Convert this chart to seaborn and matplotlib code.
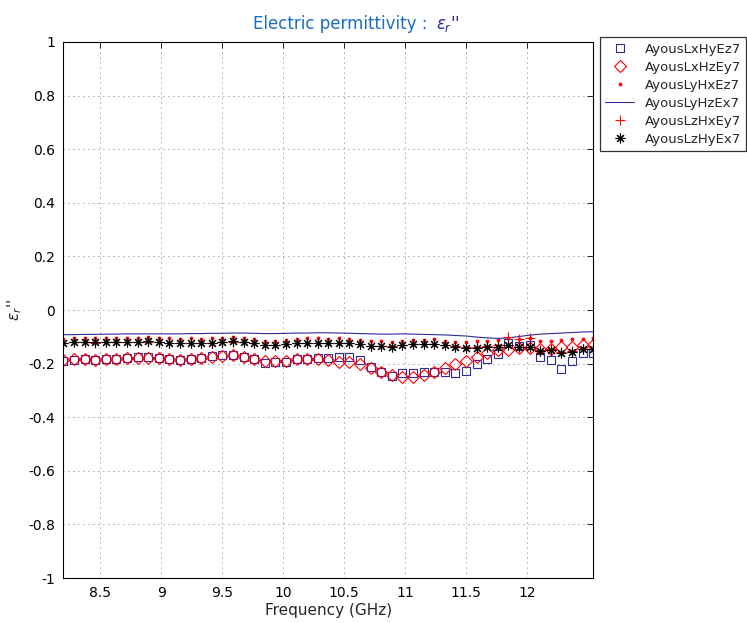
import matplotlib
matplotlib.use('Agg')
import matplotlib.pyplot as plt
import seaborn as sns
import numpy as np

# frequency grid (GHz), 51 samples across the X band
freq = np.linspace(8.2, 12.54, 51)

lx_hy_ez = [-0.189, -0.187, -0.184, -0.187, -0.184, -0.181, -0.178, -0.174, -0.174, -0.178,
            -0.181, -0.187, -0.184, -0.180, -0.172, -0.168, -0.168, -0.177, -0.184, -0.197,
            -0.193, -0.193, -0.184, -0.184, -0.180, -0.180, -0.174, -0.174, -0.187, -0.214,
            -0.230, -0.246, -0.236, -0.236, -0.230, -0.230, -0.233, -0.236, -0.226, -0.203,
            -0.184, -0.164, -0.124, -0.134, -0.131, -0.177, -0.187, -0.220, -0.189, -0.162,
            -0.162]
lx_hz_ey = [-0.186, -0.184, -0.184, -0.186, -0.184, -0.182, -0.180, -0.178, -0.178, -0.180,
            -0.182, -0.186, -0.184, -0.180, -0.177, -0.170, -0.167, -0.177, -0.184, -0.190,
            -0.190, -0.190, -0.184, -0.184, -0.181, -0.188, -0.193, -0.193, -0.203, -0.218,
            -0.230, -0.243, -0.249, -0.251, -0.243, -0.233, -0.218, -0.201, -0.190, -0.177,
            -0.159, -0.149, -0.149, -0.143, -0.143, -0.146, -0.146, -0.137, -0.137, -0.131,
            -0.131]
ly_hx_ez = [-0.108, -0.105, -0.106, -0.106, -0.105, -0.104, -0.105, -0.103, -0.101, -0.104,
            -0.106, -0.108, -0.106, -0.108, -0.106, -0.104, -0.101, -0.104, -0.108, -0.114,
            -0.114, -0.112, -0.108, -0.106, -0.106, -0.108, -0.106, -0.108, -0.111, -0.117,
            -0.117, -0.120, -0.114, -0.111, -0.111, -0.110, -0.114, -0.119, -0.121, -0.116,
            -0.114, -0.112, -0.106, -0.110, -0.106, -0.114, -0.114, -0.112, -0.110, -0.110,
            -0.106]
ly_hz_ex = [-0.092, -0.092, -0.091, -0.091, -0.090, -0.090, -0.089, -0.089, -0.089, -0.089,
            -0.089, -0.089, -0.088, -0.088, -0.087, -0.087, -0.086, -0.086, -0.087, -0.088,
            -0.088, -0.087, -0.086, -0.086, -0.085, -0.085, -0.086, -0.087, -0.088, -0.089,
            -0.090, -0.090, -0.089, -0.090, -0.091, -0.092, -0.093, -0.095, -0.097, -0.101,
            -0.104, -0.106, -0.104, -0.099, -0.094, -0.090, -0.088, -0.086, -0.084, -0.082,
            -0.081]
lz_hx_ey = [-0.123, -0.121, -0.121, -0.122, -0.121, -0.120, -0.121, -0.119, -0.118, -0.120,
            -0.122, -0.123, -0.122, -0.124, -0.122, -0.120, -0.118, -0.120, -0.124, -0.130,
            -0.130, -0.128, -0.124, -0.122, -0.122, -0.124, -0.122, -0.124, -0.127, -0.133,
            -0.133, -0.136, -0.131, -0.128, -0.128, -0.127, -0.130, -0.136, -0.139, -0.138,
            -0.134, -0.130, -0.100, -0.109, -0.106, -0.150, -0.147, -0.158, -0.153, -0.145,
            -0.145]
lz_hy_ex = [-0.124, -0.120, -0.121, -0.121, -0.121, -0.120, -0.121, -0.119, -0.117, -0.120,
            -0.122, -0.124, -0.122, -0.124, -0.122, -0.120, -0.117, -0.120, -0.124, -0.131,
            -0.131, -0.128, -0.124, -0.122, -0.122, -0.124, -0.122, -0.124, -0.128, -0.134,
            -0.134, -0.137, -0.131, -0.128, -0.128, -0.127, -0.131, -0.137, -0.141, -0.141,
            -0.137, -0.137, -0.131, -0.139, -0.139, -0.152, -0.149, -0.162, -0.156, -0.147,
            -0.147]

names = ['AyousLxHyEz7', 'AyousLxHzEy7', 'AyousLyHxEz7',
         'AyousLyHzEx7', 'AyousLzHxEy7', 'AyousLzHyEx7']

navy = '#2b2b9c'
sns.set_style('white')
plt.rcParams['font.family'] = ['DejaVu Sans']
plt.rcParams['axes.unicode_minus'] = False

fig = plt.figure(figsize=(7.47, 6.23), dpi=100)
ax = fig.add_axes([0.085, 0.0722, 0.709, 0.8604])

sns.lineplot(x=freq, y=lx_hy_ez, ax=ax, linestyle='', marker='s', markersize=6,
             markerfacecolor='none', markeredgecolor=navy, markeredgewidth=0.8,
             color=navy, label=names[0])
sns.lineplot(x=freq, y=lx_hz_ey, ax=ax, linestyle='', marker='D', markersize=6,
             markerfacecolor='none', markeredgecolor='red', markeredgewidth=0.8,
             color='red', label=names[1])
sns.lineplot(x=freq, y=ly_hx_ez, ax=ax, linestyle='', marker='.', markersize=4,
             markeredgecolor='red', markerfacecolor='red', color='red', label=names[2])
sns.lineplot(x=freq, y=ly_hz_ex, ax=ax, color=navy, linewidth=0.8, label=names[3])
sns.lineplot(x=freq, y=lz_hx_ey, ax=ax, linestyle='', marker='+', markersize=7.5,
             markeredgewidth=0.8, markeredgecolor='red', color='red', label=names[4])
sns.lineplot(x=freq, y=lz_hy_ex, ax=ax, linestyle='', marker=(8, 2, 0), markersize=7,
             markeredgewidth=0.8, markeredgecolor='black', color='black', label=names[5])

ax.set_xlim(8.2, 12.54)
ax.set_ylim(-1, 1)
ax.set_xticks([8.5, 9, 9.5, 10, 10.5, 11, 11.5, 12])
ax.set_xticklabels(['8.5', '9', '9.5', '10', '10.5', '11', '11.5', '12'])
yt = np.round(np.arange(-1, 1.01, 0.2), 1)
ax.set_yticks(yt)
ax.set_yticklabels([('%g' % v) if abs(v) > 1e-9 else '0' for v in yt])
ax.tick_params(direction='in', length=4, width=0.6, top=True, right=True,
               labelsize=10, colors='black', pad=6)
ax.grid(True, color='#444444', linestyle=(0, (1, 5)), linewidth=0.6)
for s in ax.spines.values():
    s.set_visible(True)
    s.set_color('black')
    s.set_linewidth(0.8)

ax.set_xlabel('Frequency (GHz)', fontsize=11, labelpad=2)
ax.set_ylabel("$\\epsilon_r$''", fontsize=11, rotation=90)
ax.yaxis.set_label_coords(-0.075, 0.5)

fig.text(253 / 747, 0.962, 'Electric permittivity : ', color='#1a6cc0', fontsize=12,
         ha='left', va='center')
fig.text(436 / 747, 0.962, "$\\epsilon_r$''", color=navy, fontsize=12, ha='left', va='center')

leg = ax.legend(loc='upper left', bbox_to_anchor=(0.803, 0.94), bbox_transform=fig.transFigure,
                frameon=True, fancybox=False, fontsize=9.5, borderaxespad=0,
                handlelength=2.2, labelspacing=0.38, borderpad=0.4)
leg.get_frame().set_edgecolor('black')
leg.get_frame().set_linewidth(0.9)

fig.savefig('out.png', dpi=100)
